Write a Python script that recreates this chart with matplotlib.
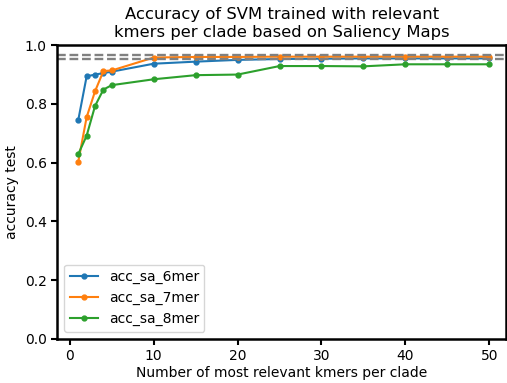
import matplotlib
matplotlib.use("Agg")
import matplotlib.pyplot as plt

# Data
n_kmers = [1, 2, 3, 4, 5, 10, 15, 20, 25, 30, 35, 40, 45, 50]
acc_sa_6mer = [0.745, 0.894, 0.900, 0.905, 0.910, 0.937, 0.944, 0.950, 0.953, 0.954, 0.955, 0.955, 0.955, 0.955]
acc_sa_7mer = [0.603, 0.755, 0.843, 0.912, 0.914, 0.958, 0.960, 0.960, 0.961, 0.961, 0.961, 0.961, 0.961, 0.961]
acc_sa_8mer = [0.629, 0.692, 0.793, 0.849, 0.864, 0.884, 0.898, 0.900, 0.929, 0.929, 0.928, 0.935, 0.935, 0.935]
baselines = [0.9655, 0.9535]

fig, ax = plt.subplots(figsize=(5.07, 3.83), dpi=100)

ax.plot(n_kmers, acc_sa_6mer, marker="o", markersize=3.5, color="#1f77b4", label="acc_sa_6mer")
ax.plot(n_kmers, acc_sa_7mer, marker="o", markersize=3.5, color="#ff7f0e", label="acc_sa_7mer")
ax.plot(n_kmers, acc_sa_8mer, marker="o", markersize=3.5, color="#2ca02c", label="acc_sa_8mer")
for b in baselines:
    ax.axhline(b, color="grey", linestyle="--", linewidth=1.7)

ax.set_ylim(0, 1.0)
ax.set_xlim(-1.5, 52)
ax.set_xlabel("Number of most relevant kmers per clade", labelpad=2)
ax.set_ylabel("accuracy test")
ax.set_title("Accuracy of SVM trained with relevant\nkmers per clade based on Saliency Maps", fontsize=11.8)
for s in ax.spines.values():
    s.set_linewidth(1.8)
ax.tick_params(width=1.5, length=4)
ax.legend(loc="lower left")

fig.subplots_adjust(left=0.113, right=0.998, top=0.882, bottom=0.115)
fig.savefig("out.png", dpi=100)
